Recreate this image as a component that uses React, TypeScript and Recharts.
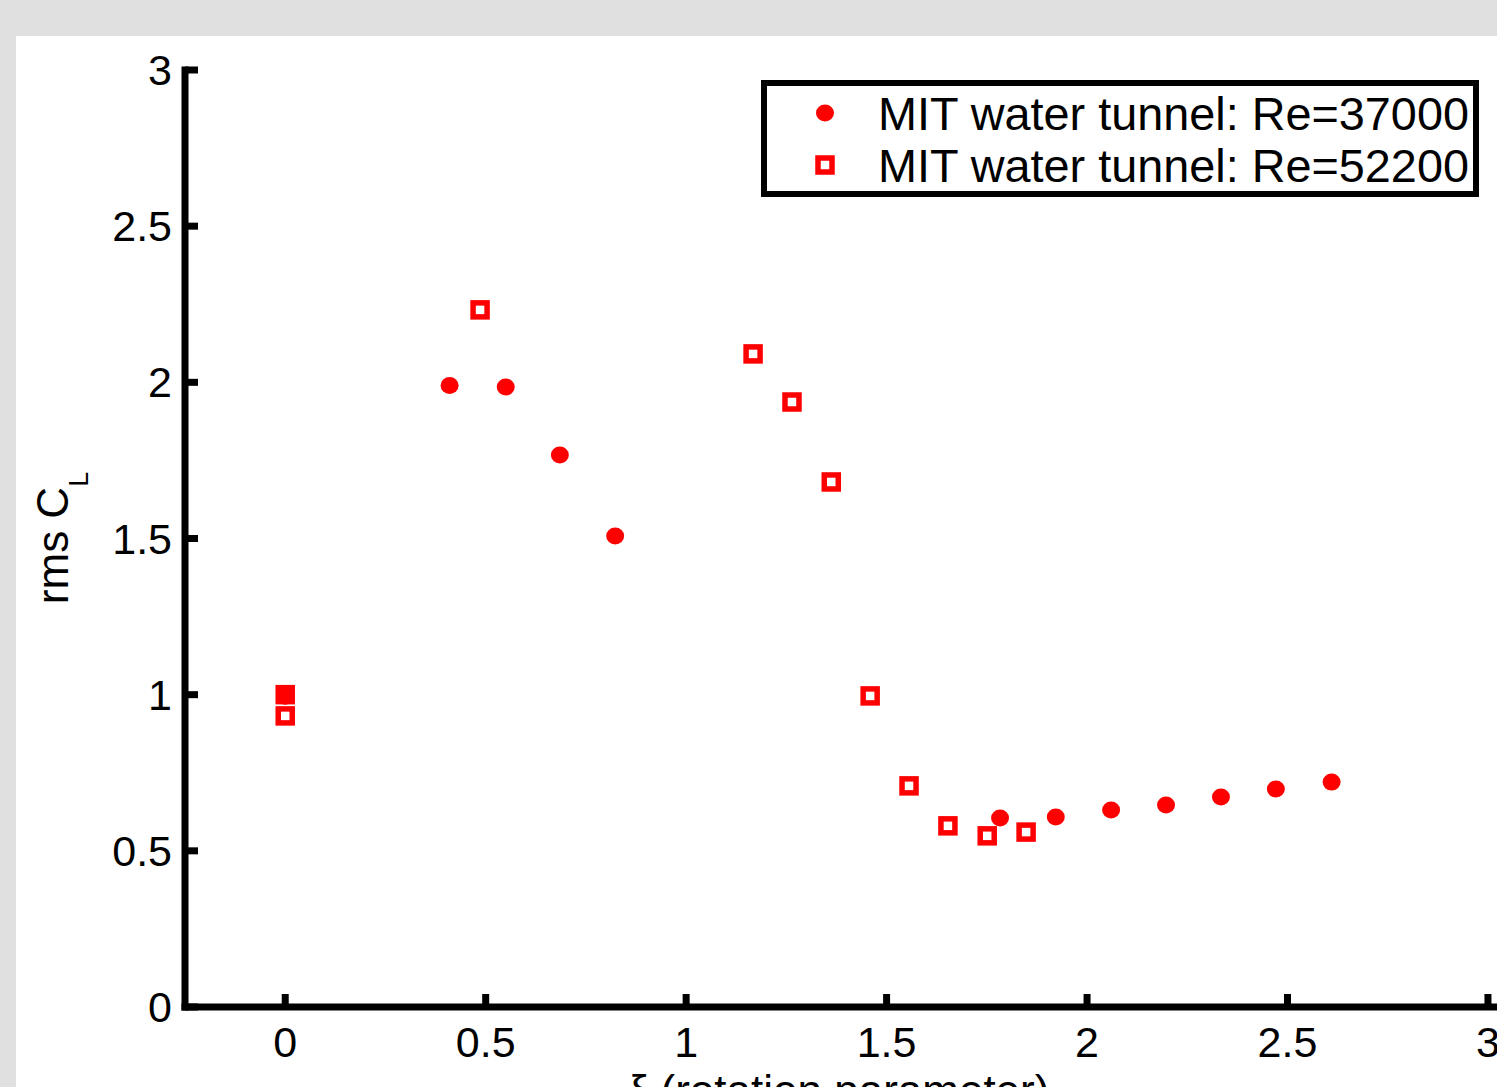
import { Legend, Scatter, ScatterChart, XAxis, YAxis } from 'recharts';

// -----------------------------------------------------------------------------
// Data
// -----------------------------------------------------------------------------

const re37000X = [0, 0.41, 0.55, 0.685, 0.823, 1.783, 1.922, 2.06, 2.197, 2.334, 2.471, 2.61];
const re37000Y = [0.995, 1.99, 1.985, 1.767, 1.508, 0.605, 0.608, 0.631, 0.647, 0.672, 0.698, 0.72];

const re52200X = [0, 0, 0.486, 1.167, 1.264, 1.362, 1.459, 1.556, 1.653, 1.751, 1.848];
const re52200Y = [1.0, 0.932, 2.232, 2.091, 1.937, 1.681, 0.996, 0.708, 0.58, 0.548, 0.56];

const xTicks = [0, 0.5, 1, 1.5, 2, 2.5, 3];
const yTicks = [0, 0.5, 1, 1.5, 2, 2.5, 3];

const seriesNames = ['MIT water tunnel: Re=37000', 'MIT water tunnel: Re=52200'];

const re37000 = re37000X.map((x, i) => ({ x, y: re37000Y[i] }));
const re52200 = re52200X.map((x, i) => ({ x, y: re52200Y[i] }));

// -----------------------------------------------------------------------------
// Styles
// -----------------------------------------------------------------------------

const FONT = '"Liberation Sans", Arial, Helvetica, sans-serif';
const RED = '#ff0000';

// -----------------------------------------------------------------------------
// Pieces
// -----------------------------------------------------------------------------

const Dot = ({ cx, cy }: { cx: number; cy: number }) => (
  <ellipse cx={cx} cy={cy} rx={9} ry={8.5} fill={RED} />
);

const Box = ({ cx, cy }: { cx: number; cy: number }) => (
  <rect x={cx - 7} y={cy - 7} width={14} height={14} fill="none" stroke={RED} strokeWidth={5.5} />
);

// ticks point inward, labels sit outside
// eslint-disable-next-line @typescript-eslint/no-explicit-any
const XTick = (props: any) => {
  const { x, y, payload } = props;
  return (
    <g>
      <line x1={x} x2={x} y1={y} y2={y - 13} stroke="#000" strokeWidth={7} />
      <text x={x} y={y + 50} textAnchor="middle" fontSize={43} fontFamily={FONT} fill="#000">
        {String(payload.value)}
      </text>
    </g>
  );
};

// eslint-disable-next-line @typescript-eslint/no-explicit-any
const YTick = (props: any) => {
  const { x, y, payload } = props;
  return (
    <g>
      <line x1={x} x2={x + 13} y1={y} y2={y} stroke="#000" strokeWidth={7} />
      <text x={x - 13} y={y + 15} textAnchor="end" fontSize={43} fontFamily={FONT} fill="#000">
        {String(payload.value)}
      </text>
    </g>
  );
};

const LegendBox = () => (
  <svg width={718} height={117} style={{ display: 'block' }}>
    <rect x={3} y={3} width={712} height={111} fill="#fff" stroke="#000" strokeWidth={6} />
    <Dot cx={64} cy={33} />
    <Box cx={64} cy={85} />
    <text x={117} y={49.5} fontSize={46.8} fontFamily={FONT} fill="#000">
      {seriesNames[0]}
    </text>
    <text x={117} y={101.5} fontSize={46.8} fontFamily={FONT} fill="#000">
      {seriesNames[1]}
    </text>
  </svg>
);

// -----------------------------------------------------------------------------
// Component
// -----------------------------------------------------------------------------

export default function App() {
  return (
    <div
      style={{
        position: 'absolute',
        left: 0,
        top: 0,
        width: 1497,
        height: 1087,
        background: '#e0e0e0',
        overflow: 'hidden',
      }}
    >
      <div style={{ position: 'absolute', left: 16, top: 36, width: 1600, height: 1200, background: '#fff' }} />
      <div style={{ position: 'absolute', left: 0, top: 0 }}>
        <ScatterChart width={1600} height={1120} margin={{ top: 70, right: 92, bottom: 33, left: 0 }}>
          <XAxis
            type="number"
            dataKey="x"
            domain={[-0.25, 3.05]}
            ticks={xTicks}
            interval={0}
            allowDataOverflow
            height={80}
            axisLine={{ stroke: '#000', strokeWidth: 7, strokeLinecap: 'square' }}
            tickLine={false}
            tickSize={0}
            tickMargin={0}
            tick={<XTick />}
          />
          <YAxis
            type="number"
            dataKey="y"
            domain={[0, 3]}
            ticks={yTicks}
            interval={0}
            allowDataOverflow
            width={185}
            axisLine={{ stroke: '#000', strokeWidth: 7, strokeLinecap: 'square' }}
            tickLine={false}
            tickSize={0}
            tickMargin={0}
            tick={<YTick />}
          />
          <Legend
            layout="horizontal"
            verticalAlign="middle"
            align="center"
            wrapperStyle={{ left: 761, top: 80, width: 718, height: 117 }}
            content={() => <LegendBox />}
          />
          <Scatter
            name={seriesNames[1]}
            data={re52200}
            isAnimationActive={false}
            // eslint-disable-next-line @typescript-eslint/no-explicit-any
            shape={(p: any) => <Box cx={p.cx} cy={p.cy} />}
          />
          <Scatter
            name={seriesNames[0]}
            data={re37000}
            isAnimationActive={false}
            // eslint-disable-next-line @typescript-eslint/no-explicit-any
            shape={(p: any) => <Dot cx={p.cx} cy={p.cy} />}
          />
        </ScatterChart>
      </div>
      {/* axis titles */}
      <svg width={1497} height={1087} style={{ position: 'absolute', left: 0, top: 0, pointerEvents: 'none' }}>
        <text
          x={68}
          y={538}
          transform="rotate(-90, 68, 538)"
          textAnchor="middle"
          fontSize={44}
          fontFamily={FONT}
          fill="#000"
        >
          rms C
          <tspan fontSize={27} dy={20}>
            L
          </tspan>
        </text>
        <text x={839} y={1106} textAnchor="middle" fontSize={44} fontFamily={FONT} fill="#000">
          ξ (rotation parameter)
        </text>
      </svg>
    </div>
  );
}
